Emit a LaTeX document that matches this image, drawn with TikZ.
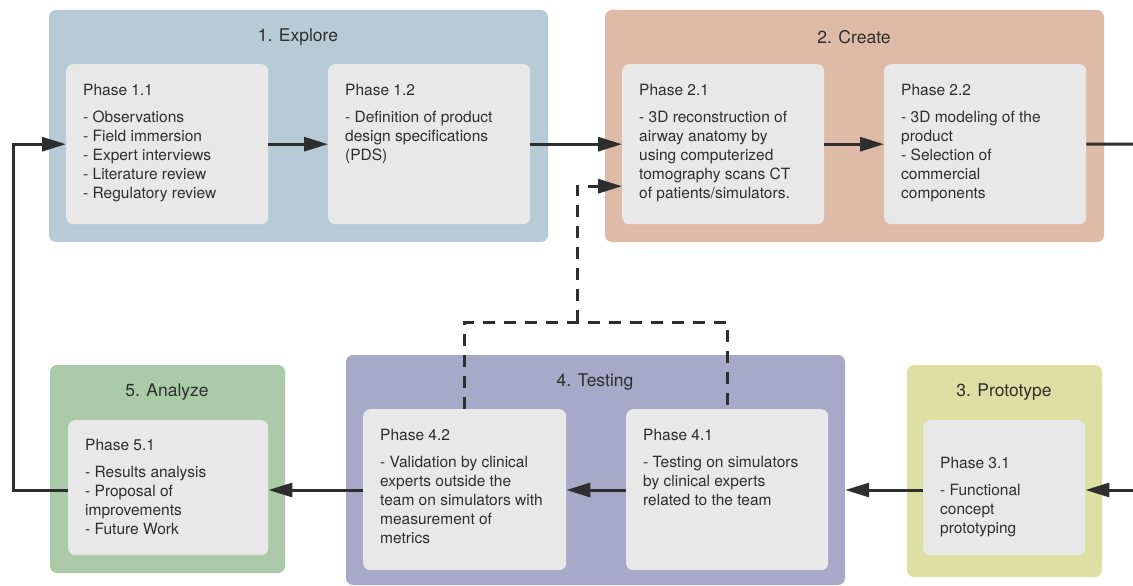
\documentclass[tikz,border=0pt]{standalone}
\usepackage{fontspec}
\setmainfont{TeX Gyre Heros}
\usetikzlibrary{arrows.meta}

\definecolor{explore}{HTML}{B6CBD5}
\definecolor{create}{HTML}{DDBBA7}
\definecolor{prototype}{HTML}{DEDFA3}
\definecolor{testing}{HTML}{A8A8C8}
\definecolor{analyze}{HTML}{ABCBA8}
\definecolor{inner}{HTML}{E8E8E8}
\definecolor{ink}{HTML}{2E2E2E}

\newcommand\phasetext[4]{\parbox[c][#1][t]{#2}{\raggedright #3\par\vspace{8pt}#4}}

\tikzset{
  stage/.style={fill=#1, rounded corners=7pt, inner sep=0pt},
  phase/.style={fill=inner, rounded corners=7pt, inner xsep=17pt, inner ysep=20pt,
    anchor=north west, text=ink, font=\fontsize{15.5}{19}\selectfont},
  title/.style={text=ink, font=\fontsize{17.5}{21}\selectfont},
  link/.style={draw=ink, line width=3pt},
  flow/.style={link, -{Triangle[length=24pt,width=14pt]}},
  dashline/.style={link, dash pattern=on 12pt off 9pt},
}

\begin{document}
\begin{tikzpicture}[x=1pt,y=-1pt]
\useasboundingbox (0,0) rectangle (1133,586);

\node[stage=explore, minimum width=499pt, minimum height=232pt] (s1) at (298.5,126) {};
\node[stage=create, minimum width=499pt, minimum height=232pt] (s2) at (854.5,126) {};
\node[stage=prototype, minimum width=195pt, minimum height=212pt] (s3) at (1004.5,471) {};
\node[stage=testing, minimum width=499pt, minimum height=230pt] (s4) at (595.5,470) {};
\node[stage=analyze, minimum width=235pt, minimum height=208pt] (s5) at (167.5,469) {};

\node[title] (t1) at (298,37) {1. Explore};
\node[title] (t2) at (854,37) {2. Create};
\node[title] (t3) at (1004,392) {3. Prototype};
\node[title] (t4) at (595,382) {4. Testing};
\node[title] (t5) at (167,392) {5. Analyze};

\node[phase] (p11) at (66,64) {\phasetext{120pt}{168pt}{Phase 1.1}{- Observations\\- Field immersion\\- Expert interviews\\- Literature review\\- Regulatory review}};
\node[phase] (p12) at (328,64) {\phasetext{120pt}{168pt}{Phase 1.2}{- Definition of product\\design specifications\\(PDS)}};
\node[phase] (p21) at (622,64) {\phasetext{120pt}{168pt}{Phase 2.1}{- 3D reconstruction of\\airway anatomy by\\using computerized\\tomography scans CT\\of patients/simulators.}};
\node[phase] (p22) at (884,64) {\phasetext{120pt}{168pt}{Phase 2.2}{- 3D modeling of the\\product\\- Selection of\\commercial\\components}};
\node[phase, inner ysep=37pt] (p31) at (923,420) {\phasetext{61pt}{128pt}{Phase 3.1}{- Functional\\concept\\prototyping}};
\node[phase] (p41) at (626,409) {\phasetext{121pt}{168pt}{Phase 4.1}{- Testing on simulators\\by clinical experts\\related to the team}};
\node[phase] (p42) at (363,409) {\phasetext{121pt}{169pt}{Phase 4.2}{- Validation by clinical\\experts outside the\\team on simulators with\\measurement of\\metrics}};
\node[phase, inner ysep=19pt] (p51) at (68,420) {\phasetext{97pt}{166pt}{Phase 5.1}{- Results analysis\\- Proposal of\\improvements\\- Future Work}};

\coordinate (r1) at (1133,144);
\coordinate (r2) at (1133,490);
\coordinate (d) at (577,322);

\draw[flow] (p11) -- (p12);
\draw[flow] (p12) -- (p21);
\draw[flow] (p21) -- (p22);
\draw[link] (p22) -- (r1);
\draw[flow] (r2) -- (r2 -| p31.east);
\draw[flow] (r2 -| p31.west) -- (r2 -| s4.east);
\draw[flow] (r2 -| p41.west) -- (r2 -| p42.east);
\draw[flow] (r2 -| p42.west) -- (r2 -| p51.east);
\draw[flow] (r2 -| p51.west) -- ++(-55,0) |- (p11.west);
\draw[dashline] (p42.north) -- ++(0,-87) -| (p41.north);
\draw[dashline, -{Triangle[length=24pt,width=14pt]}] (d) |- ([yshift=-42pt]p21.west);
\end{tikzpicture}
\end{document}
